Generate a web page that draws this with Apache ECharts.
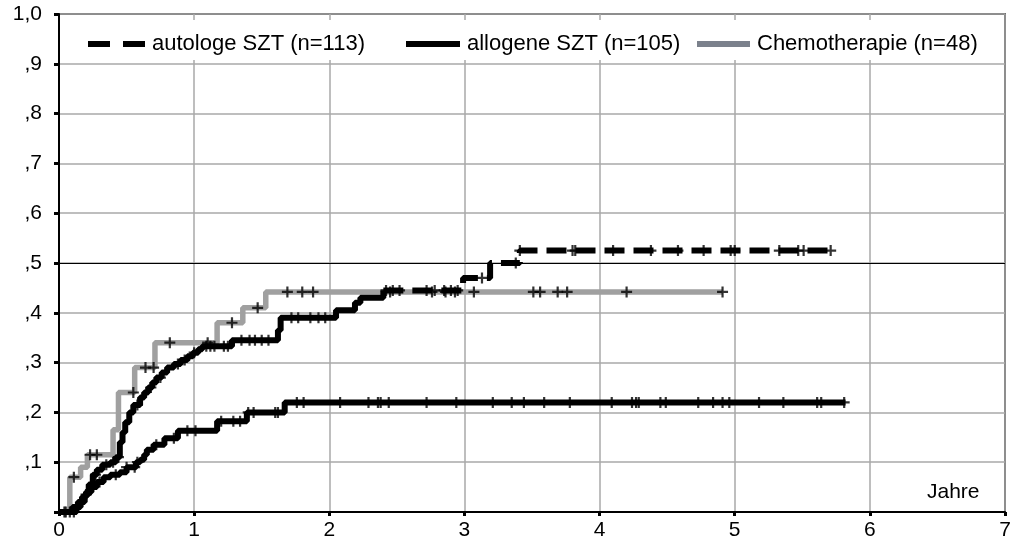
<!DOCTYPE html>
<html>
<head>
<meta charset="utf-8">
<script src="https://cdn.jsdelivr.net/npm/echarts@6/dist/echarts.min.js"></script>
<style>html,body{margin:0;padding:0;background:#fff}#c{width:1018px;height:547px}</style>
</head>
<body>
<div id="c"></div>
<script>
// ---- data ----
const seriesNames = ['autologe SZT (n=113)', 'allogene SZT (n=105)', 'Chemotherapie (n=48)'];
const xTicks = [0, 1, 2, 3, 4, 5, 6, 7];
const yTickLabels = ['', ',1', ',2', ',3', ',4', ',5', ',6', ',7', ',8', ',9', '1,0'];
const xAxisTitle = 'Jahre';

// step curves: [time (years), cumulative incidence after the step]
const autologeCurve = [
  [0,0],[0.13,0.01],[0.16,0.02],[0.19,0.035],[0.22,0.055],[0.25,0.075],[0.28,0.085],[0.32,0.095],
  [0.38,0.1],[0.42,0.11],[0.45,0.14],[0.47,0.16],[0.49,0.18],[0.52,0.2],[0.55,0.215],[0.6,0.23],
  [0.63,0.24],[0.66,0.25],[0.69,0.26],[0.72,0.27],[0.76,0.28],[0.8,0.29],[0.85,0.297],[0.9,0.305],
  [0.95,0.313],[0.99,0.32],[1.03,0.327],[1.06,0.333],[1.28,0.345],[1.62,0.365],[1.64,0.39],
  [2.05,0.405],[2.19,0.42],[2.23,0.43],[2.40,0.445],[2.99,0.47],[3.19,0.50],[3.41,0.525],[5.75,0.525]
];
const allogeneCurve = [
  [0,0],[0.1,0.01],[0.14,0.02],[0.17,0.03],[0.2,0.04],[0.24,0.05],[0.28,0.06],[0.33,0.07],
  [0.38,0.075],[0.45,0.08],[0.5,0.09],[0.57,0.1],[0.6,0.105],[0.63,0.115],[0.65,0.125],[0.7,0.135],
  [0.78,0.148],[0.88,0.163],[1.17,0.182],[1.39,0.2],[1.67,0.22],[5.82,0.22]
];
const chemoCurve = [
  [0,0],[0.08,0.07],[0.16,0.09],[0.21,0.115],[0.40,0.165],[0.44,0.24],[0.56,0.29],[0.71,0.34],
  [1.17,0.38],[1.36,0.41],[1.53,0.442],[4.91,0.442]
];
// time after which the autologe curve's dashes become visible (dense steps look solid before)
const autologeDashFrom = 2.40;

// censoring times (years)
const autologeCensor = [0.04,0.08,0.11,0.2,0.27,0.35,0.4,0.44,0.58,0.68,0.75,0.88,0.93,1.0,1.09,1.12,
  1.15,1.22,1.25,1.35,1.41,1.45,1.5,1.55,1.72,1.77,1.86,1.92,1.97,2.42,2.47,2.52,2.72,2.78,2.85,2.9,
  2.95,3.13,3.38,3.41,3.8,3.82,4.1,4.38,4.58,4.77,4.97,5.0,5.33,5.47,5.51,5.71];
const allogeneCensor = [0.05,0.3,0.42,0.5,0.56,0.58,0.72,0.85,0.95,1.01,1.2,1.29,1.34,1.4,1.44,1.6,1.62,
  1.76,1.81,2.08,2.29,2.36,2.38,2.44,2.72,2.94,3.21,3.35,3.44,3.59,3.78,4.09,4.24,4.27,4.29,4.45,4.49,
  4.73,4.84,4.91,4.96,5.18,5.36,5.61,5.64,5.81];
const chemoCensor = [0.11,0.23,0.28,0.55,0.64,0.70,0.82,1.10,1.28,1.47,1.69,1.80,1.88,2.45,2.76,2.86,
  2.93,3.07,3.51,3.56,3.69,3.76,4.20,4.91];

// ---- helpers ----
function levelAt(curve, t) { let v = 0; for (const p of curve) { if (p[0] <= t) v = p[1]; } return v; }
function censorPoints(curve, times) { return times.map(t => [t, levelAt(curve, t)]); }
const plus = 'path://M4,0H6V4H10V6H6V10H4V6H0V4H4Z';
const FONT = '"Liberation Sans", Arial, sans-serif';
const autoSolidPart = autologeCurve.filter(p => p[0] <= autologeDashFrom);
const autoDashPart = autologeCurve.filter(p => p[0] >= autologeDashFrom);

const chart = echarts.init(document.getElementById('c'), null, {renderer: 'canvas'});
function legendFor(name, left, icon, w, color) {
  return {
    data: [{name: name, icon: icon}],
    left: left, top: 33, itemWidth: w, itemHeight: 6, itemGap: 0, padding: 0,
    selectedMode: false, itemStyle: {color: color, borderWidth: 0},
    textStyle: {fontSize: 22, color: '#000', fontFamily: FONT, padding: [0, 0, 0, 2]}
  };
}
chart.setOption({
  animation: false,
  grid: {left: 59, top: 14, right: 13, bottom: 35, show: true, borderColor: '#000', borderWidth: 1.5, backgroundColor: '#fff'},
  xAxis: {
    type: 'value', min: 0, max: 7, interval: 1,
    axisLine: {show: true, onZero: false, lineStyle: {color: '#000', width: 2}},
    axisTick: {show: true, length: 4, lineStyle: {color: '#000', width: 3}},
    axisLabel: {margin: 8, fontSize: 21, color: '#000', fontFamily: FONT,
      formatter: v => (xTicks.indexOf(v) >= 0 ? String(v) : '')},
    splitLine: {show: true, lineStyle: {color: '#a8a8a8', width: 1.5}}
  },
  yAxis: {
    type: 'value', min: 0, max: 1, interval: 0.1,
    axisLine: {show: true, onZero: false, lineStyle: {color: '#000', width: 2}},
    axisTick: {show: true, length: 5, lineStyle: {color: '#000', width: 3}},
    axisLabel: {margin: 17, fontSize: 21, color: '#000', fontFamily: FONT,
      formatter: v => yTickLabels[Math.round(v * 10)]},
    splitLine: {show: true, lineStyle: {color: '#a8a8a8', width: 1.5}}
  },
  legend: [
    legendFor(seriesNames[0], 88, 'path://M0,0H22V6H0Z M35,0H57V6H35Z', 57, '#000'),
    legendFor(seriesNames[1], 406, 'rect', 54, '#000'),
    legendFor(seriesNames[2], 697, 'rect', 53, '#7b818c')
  ],
  graphic: [
    {type: 'rect', z: 1, shape: {x: 61, y: 20, width: 941, height: 40}, style: {fill: '#fff'}},
    {type: 'text', z: 5, x: 927, y: 492, style: {text: xAxisTitle, font: '21px ' + FONT, fill: '#000', verticalAlign: 'middle'}}
  ],
  series: [
    {
      name: seriesNames[2], type: 'line', step: 'end', data: chemoCurve, showSymbol: false, symbol: 'none',
      lineStyle: {color: '#a0a0a0', width: 5.5}, itemStyle: {color: '#a0a0a0'}, z: 2
    },
    {
      name: seriesNames[1], type: 'line', step: 'end', data: allogeneCurve, showSymbol: false, symbol: 'none',
      lineStyle: {color: '#000', width: 6}, itemStyle: {color: '#000'}, z: 3,
      markLine: {silent: true, symbol: 'none', label: {show: false},
        lineStyle: {color: '#000', width: 1, type: 'solid'}, data: [{yAxis: 0.5}]}
    },
    {
      name: seriesNames[0], type: 'line', step: 'end', data: autoSolidPart, showSymbol: false, symbol: 'none',
      lineStyle: {color: '#000', width: 6}, itemStyle: {color: '#000'}, z: 3
    },
    {
      name: seriesNames[0], type: 'line', step: 'end', data: autoDashPart, showSymbol: false, symbol: 'none',
      lineStyle: {color: '#000', width: 6, type: [20, 9]}, itemStyle: {color: '#000'}, z: 3
    },
    {type: 'scatter', data: censorPoints(chemoCurve, chemoCensor), symbol: plus, symbolSize: 11,
      itemStyle: {color: '#000'}, z: 4, silent: true},
    {type: 'scatter', data: censorPoints(allogeneCurve, allogeneCensor), symbol: plus, symbolSize: 11,
      itemStyle: {color: '#000'}, z: 4, silent: true},
    {type: 'scatter', data: censorPoints(autologeCurve, autologeCensor), symbol: plus, symbolSize: 11,
      itemStyle: {color: '#000'}, z: 4, silent: true}
  ]
});
</script>
</body>
</html>
